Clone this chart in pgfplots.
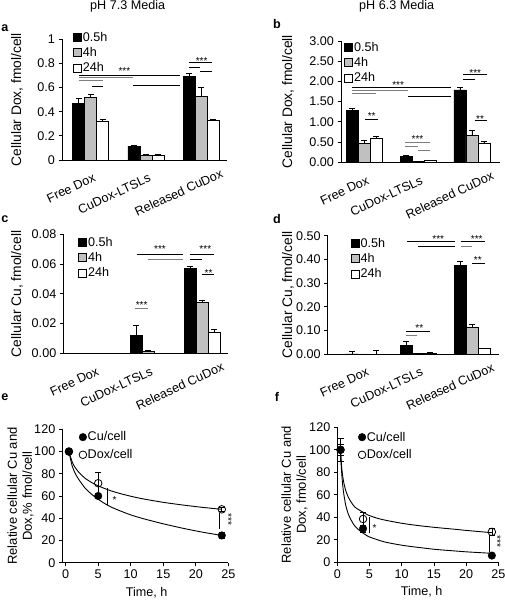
\documentclass[border=0pt]{standalone}
\usepackage{fontspec}
\setmainfont{Liberation Sans}
\usepackage{pgfplots}
\usepackage{pgfplotstable}
\pgfplotsset{compat=1.18}

\definecolor{bargray}{RGB}{192,192,192}
\definecolor{siggray}{RGB}{125,125,125}

\newcommand{\tkf}{\fontsize{12.6}{14.5}\selectfont}
\newcommand{\ylf}{\fontsize{13.8}{15}\selectfont}
\newcommand{\ylfe}{\fontsize{13}{15}\selectfont}
\newcommand{\stf}{\fontsize{10}{10}\selectfont}

\newcommand{\sig}[4][black]{\draw[#1,line width=0.8pt] (axis cs:#2,#4) -- (axis cs:#3,#4);}
\newcommand{\stars}[3]{\node[font=\stf,inner sep=0pt,yshift=-2pt] at (axis cs:#1,#2) {#3};}

\tikzset{catl/.style={rotate=25,anchor=north east,inner sep=0pt,font=\tkf}}

\pgfplotstableread{
x h05 e05 h4 e4 h24 e24
0 0.47 0.04 0.52 0.02 0.32 0.015
1 0.115 0.005 0.04 0.004 0.035 0.01
2 0.69 0.03 0.53 0.07 0.33 0.01
}\tabA
\pgfplotstableread{
x h05 e05 h4 e4 h24 e24
0 1.28 0.05 0.47 0.07 0.60 0.05
1 0.15 0.01 0.03 0.005 0.04 0.005
2 1.79 0.06 0.67 0.11 0.48 0.04
}\tabB
\pgfplotstableread{
x h05 e05 h4 e4 h24 e24
0 0 0 0 0 0 0
1 0.0123 0.0063 0.001 0.001 -0.0002 0.0002
2 0.0571 0.0015 0.0343 0.0013 0.0139 0.0022
}\tabC
\pgfplotstableread{
x h05 e05 h4 e4 h24 e24
0 0 0.01 0 0 0 0.017
1 0.036 0.018 0.001 0.001 0.003 0.004
2 0.375 0.015 0.111 0.013 0.022 0.003
}\tabD

\pgfplotsset{
  errb/.style={/pgfplots/error bars/y dir=plus,/pgfplots/error bars/y explicit,
    /pgfplots/error bars/error bar style={black,line width=0.7pt},
    /pgfplots/error bars/error mark options={black,rotate=90,mark size=3pt,line width=0.7pt}},
  sqleg/.style={legend image code/.code={\draw[##1,line width=0.7pt] (0pt,-4pt) rectangle (8pt,4pt);}},
  twodec/.style={scaled y ticks=false,yticklabel style={/pgf/number format/fixed,/pgf/number format/fixed zerofill,/pgf/number format/precision=2}},
  common/.style={scale only axis, anchor=south west, clip=false,
    axis x line*=bottom, axis y line*=left,
    axis line style={black,line width=0.8pt},
    tick align=outside, major tick length=3.5pt,
    tick style={black,line width=0.8pt},
    tick label style={font=\tkf},
    /pgf/number format/assume math mode=true,
    legend cell align=left,
    legend style={anchor=north west,draw=none,fill=none,font=\tkf,
      row sep=2.6pt,inner sep=0pt,nodes={inner sep=1pt}},
  },
  barax/.style={common, ybar=0pt, bar width=12pt, ymin=0, xtick=\empty,
    ylabel style={font=\ylf,anchor=center,rotate=0}},
  lineax/.style={common, ymin=0, ymax=120, ytick={0,20,40,60,80,100,120},
    xtick={0,5,10,15,20,25}, xmax=25,
    legend style={row sep=5pt},
    ylabel style={font=\ylfe,anchor=center,align=center},
    xlabel style={font=\tkf,anchor=center}},
  bk/.style={fill=black,draw=black,line width=0.7pt,errb,sqleg},
  gr/.style={fill=bargray,draw=black,line width=0.7pt,errb,sqleg},
  wh/.style={fill=white,draw=black,line width=0.7pt,errb,sqleg},
  cu/.style={only marks,mark=*,mark size=3.8pt,black,mark options={fill=black}},
  dx/.style={only marks,mark=o,mark size=3.8pt,black,mark options={line width=0.8pt}},
  scerr/.style={/pgfplots/error bars/y dir=both,/pgfplots/error bars/y explicit,
    /pgfplots/error bars/error bar style={black,line width=0.7pt},
    /pgfplots/error bars/error mark options={black,rotate=90,mark size=3pt,line width=0.7pt}},
  circleg/.style={legend image code/.code={\draw[##1] plot coordinates {(4pt,0pt)};}},
  fitc/.style={black,line width=0.9pt,smooth,no marks,forget plot},
}

\begin{document}
\begin{tikzpicture}
\useasboundingbox (0,0) rectangle (505pt,600pt);

\node[font=\tkf] at (127.7pt,593.5pt) {pH 7.3 Media};
\node[font=\tkf] at (396.7pt,593.5pt) {pH 6.3 Media};
\node[font=\tkf\bfseries] at (5pt,572pt) {a};
\node[font=\tkf\bfseries] at (277pt,575.5pt) {b};
\node[font=\tkf\bfseries] at (5pt,380.7pt) {c};
\node[font=\tkf\bfseries] at (277pt,381.3pt) {d};
\node[font=\tkf\bfseries] at (5pt,203pt) {e};
\node[font=\tkf\bfseries] at (277pt,203pt) {f};

% ---------- a ----------
\begin{axis}[barax, at={(62pt,440pt)}, width=165pt, height=120.7pt,
  xmin=-0.52, xmax=2.47, ymax=1, ytick={0,0.2,0.4,0.6,0.8,1},
  ylabel={Cellular Dox, fmol/cell},
  ylabel style={at={(axis description cs:-0.273,0.5)}},
  legend style={at={(axis description cs:0.067,1.069)}}]
\addplot[bk] table[x=x,y=h05,y error=e05]{\tabA};
\addplot[gr] table[x=x,y=h4,y error=e4]{\tabA};
\addplot[wh] table[x=x,y=h24,y error=e24]{\tabA};
\legend{0.5h,4h,24h}
\sig{-0.22}{1.62}{0.705}
\sig[siggray]{-0.22}{0.77}{0.686}
\sig[siggray]{-0.22}{0.23}{0.66}
\sig{0.77}{1.62}{0.62}
\sig{0.02}{0.23}{0.61}
\stars{0.61}{0.75}{***}
\sig{1.78}{2.19}{0.81}
\sig{1.78}{1.98}{0.766}
\sig{1.98}{2.19}{0.733}
\stars{2.01}{0.838}{***}
\node[catl] at ([xshift=2pt,yshift=-13pt]axis cs:0,0) {Free Dox};
\node[catl] at ([xshift=2pt,yshift=-13pt]axis cs:1,0) {CuDox-LTSLs};
\node[catl] at ([xshift=19pt,yshift=-8pt]axis cs:2,0) {Released CuDox};
\end{axis}

% ---------- b ----------
\begin{axis}[barax, twodec, at={(341pt,437.7pt)}, width=159pt, height=121.3pt,
  xmin=-0.43, xmax=2.52, ymax=3, ytick={0,0.5,1,1.5,2,2.5,3},
  ylabel={Cellular Dox, fmol/cell},
  ylabel style={at={(axis description cs:-0.333,0.5)}},
  legend style={at={(axis description cs:0.02,1.0)}}]
\addplot[bk] table[x=x,y=h05,y error=e05]{\tabB};
\addplot[gr] table[x=x,y=h4,y error=e4]{\tabB};
\addplot[wh] table[x=x,y=h24,y error=e24]{\tabB};
\legend{0.5h,4h,24h}
\sig{-0.23}{1.62}{1.86}
\sig[siggray]{-0.23}{0.82}{1.78}
\sig[siggray]{-0.23}{0.22}{1.70}
\sig{0.82}{1.62}{1.64}
\stars{0.63}{1.97}{***}
\sig{0.02}{0.26}{1.07}
\stars{0.14}{1.19}{**}
\sig[siggray]{0.76}{1.22}{0.49}
\sig[siggray]{0.76}{1.0}{0.40}
\sig[siggray]{1.0}{1.22}{0.30}
\stars{0.99}{0.62}{***}
\sig{1.83}{2.27}{2.17}
\sig{1.83}{2.05}{2.04}
\stars{2.06}{2.26}{***}
\sig{2.05}{2.27}{1.04}
\stars{2.15}{1.13}{**}
\node[catl] at ([xshift=2pt,yshift=-13pt]axis cs:0,0) {Free Dox};
\node[catl] at ([xshift=2pt,yshift=-13pt]axis cs:1,0) {CuDox-LTSLs};
\node[catl] at ([xshift=19pt,yshift=-8pt]axis cs:2,0) {Released CuDox};
\end{axis}

% ---------- c ----------
\begin{axis}[barax, twodec, at={(63.3pt,246.7pt)}, width=164.7pt, height=119pt,
  xmin=-0.57, xmax=2.48, ymax=0.08, ytick={0,0.02,0.04,0.06,0.08},
  ylabel={Cellular Cu, fmol/cell},
  ylabel style={at={(axis description cs:-0.281,0.5)}},
  legend style={at={(axis description cs:0.09,0.985)}}]
\addplot[bk] table[x=x,y=h05,y error=e05]{\tabC};
\addplot[gr] table[x=x,y=h4,y error=e4]{\tabC};
\addplot[wh] table[x=x,y=h24,y error=e24]{\tabC};
\legend{0.5h,4h,24h}
\sig{0.79}{1.65}{0.0666}
\sig[siggray]{1.0}{1.65}{0.0634}
\stars{1.22}{0.0713}{***}
\sig{1.77}{2.23}{0.0663}
\sig{1.77}{2.0}{0.0634}
\stars{2.06}{0.0713}{***}
\sig{2.0}{2.23}{0.0529}
\stars{2.12}{0.0555}{**}
\sig[siggray]{0.76}{1.0}{0.0302}
\stars{0.88}{0.0336}{***}
\node[catl] at ([xshift=2pt,yshift=-13pt]axis cs:0,0) {Free Dox};
\node[catl] at ([xshift=2pt,yshift=-13pt]axis cs:1,0) {CuDox-LTSLs};
\node[catl] at ([xshift=19pt,yshift=-8pt]axis cs:2,0) {Released CuDox};
\end{axis}

% ---------- d ----------
\begin{axis}[barax, twodec, at={(327.7pt,246pt)}, width=171.3pt, height=118.3pt,
  xmin=-0.67, xmax=2.49, ymax=0.5, ytick={0,0.1,0.2,0.3,0.4,0.5},
  ylabel={Cellular Cu, fmol/cell},
  ylabel style={at={(axis description cs:-0.232,0.5)}},
  legend style={at={(axis description cs:0.135,0.99)}}]
\addplot[bk] table[x=x,y=h05,y error=e05]{\tabD};
\addplot[gr] table[x=x,y=h4,y error=e4]{\tabD};
\addplot[wh] table[x=x,y=h24,y error=e24]{\tabD};
\legend{0.5h,4h,24h}
\sig{0.80}{1.68}{0.475}
\sig{1.0}{1.68}{0.455}
\stars{1.37}{0.493}{***}
\sig{1.79}{2.23}{0.475}
\sig[siggray]{1.79}{2.0}{0.455}
\stars{2.08}{0.493}{***}
\sig{2.0}{2.23}{0.385}
\stars{2.1}{0.404}{**}
\sig{0.77}{1.22}{0.097}
\sig[siggray]{0.77}{0.98}{0.080}
\stars{1.02}{0.118}{**}
\node[catl] at ([xshift=2pt,yshift=-13pt]axis cs:0,0) {Free Dox};
\node[catl] at ([xshift=2pt,yshift=-13pt]axis cs:1,0) {CuDox-LTSLs};
\node[catl] at ([xshift=19pt,yshift=-8pt]axis cs:2,0) {Released CuDox};
\end{axis}

% ---------- e ----------
\begin{axis}[lineax, at={(62.3pt,37.3pt)}, width=166pt, height=133.4pt,
  xmin=-0.52,
  ylabel={Relative cellular Cu and\\Dox,\% fmol/cell},
  ylabel style={at={(axis description cs:-0.252,0.5)}},
  xlabel={Time, h},
  xlabel style={at={(axis description cs:0.508,-0.225)}},
  legend style={at={(axis description cs:0.1,0.99)}}]
\addlegendimage{cu,circleg}\addlegendentry{Cu/cell}
\addlegendimage{dx,circleg}\addlegendentry{Dox/cell}
\addplot[fitc] coordinates {(0.5,100)(1,90.7)(1.5,85.2)(2,81.4)(3,75.9)(4,72.1)(5,69.1)(6.5,65.6)(8,62.8)(10,59.8)(12,57.3)(15,54.3)(18,51.9)(21,49.8)(24,48.0)};
\addplot[fitc] coordinates {(0.5,100)(1,87)(1.5,80)(2,75)(3,67)(4,61.5)(5,57)(6.5,51.5)(8,47.5)(10,43)(12,39.5)(15,35)(18,31)(21,27.5)(24,24.5)};
\addplot[dx,scerr,forget plot] coordinates {(0.5,100) +- (0,2) (5,71.5) +- (0,9.5) (24,48) +- (0,2)};
\addplot[cu,scerr,forget plot] coordinates {(0.5,100) +- (0,1.5) (5,60) +- (0,2) (24,24.5) +- (0,2.5)};
\draw[black,line width=0.8pt] (axis cs:6.46,52) -- (axis cs:6.46,67);
\node[font=\stf,inner sep=0pt,yshift=-2pt] at (axis cs:7.5,58) {*};
\draw[black,line width=0.8pt] (axis cs:23.6,30) -- (axis cs:23.6,45);
\node[font=\stf,inner sep=0pt,rotate=-90,xshift=-2pt] at (axis cs:25,37) {***};
\end{axis}

% ---------- f ----------
\begin{axis}[lineax, at={(337.3pt,37.7pt)}, width=161pt, height=135pt,
  xmin=0,
  ylabel={Relative cellular Cu and\\Dox, fmol/cell},
  ylabel style={at={(axis description cs:-0.266,0.5)}},
  xlabel={Time, h},
  xlabel style={at={(axis description cs:0.524,-0.22)}},
  legend style={at={(axis description cs:0.129,0.975)}}]
\addlegendimage{cu,circleg}\addlegendentry{Cu/cell}
\addlegendimage{dx,circleg}\addlegendentry{Dox/cell}
\addplot[fitc] coordinates {(0.5,100)(0.6,90)(0.7,83)(0.85,76)(1.0,71)(1.3,64)(1.7,58)(2.2,53)(2.75,49)(3.4,46.5)(4,44.5)(4.8,42)(6,39.5)(7.4,37.5)(10,34.7)(12.5,32.7)(15.2,31)(18,29.5)(20.3,28.2)(24,26.3)};
\addplot[fitc] coordinates {(0.5,100)(0.6,87)(0.7,78)(0.85,68)(1.0,61)(1.3,51)(1.7,43)(2.2,37)(2.75,32)(3.4,28.5)(4,26)(4.8,23)(6,20.5)(7.4,18)(10,15.2)(12.5,13.3)(15.2,11.5)(18,10.2)(20.3,9.2)(24,8)};
\addplot[dx,scerr,forget plot] coordinates {(0.5,100) +- (0,5) (4,38.5) +- (0,6) (24,27) +- (0,3)};
\addplot[cu,scerr,forget plot] coordinates {(0.5,100) +- (0,10) (4,30) +- (0,3) (24,6) +- (0,1)};
\draw[black,line width=0.8pt] (axis cs:4.97,25.8) -- (axis cs:4.97,40);
\node[font=\stf,inner sep=0pt,yshift=-2pt] at (axis cs:5.8,32) {*};
\draw[black,line width=0.8pt] (axis cs:23.6,9.4) -- (axis cs:23.6,24);
\node[font=\stf,inner sep=0pt,rotate=-90,xshift=-2pt] at (axis cs:24.85,17) {***};
\end{axis}
\end{tikzpicture}
\end{document}
